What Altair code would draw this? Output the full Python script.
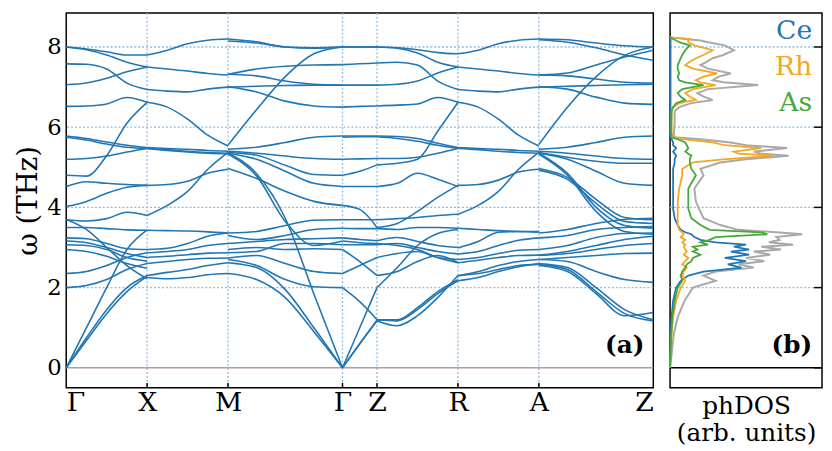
import altair as alt
import pandas as pd

# ---------------- high-symmetry path ----------------
K_POS = [0, 82, 164, 280, 315, 397, 479, 595]
K_LABELS = ["Γ", "X", "M", "Γ", "Z", "R", "A", "Z"]
Y_TICKS = [0, 2, 4, 6, 8]

# ---------------- phonon bands (THz), sampled evenly along each segment ----------------
GX = [
    [8.0, 7.95, 7.88, 7.8, 7.8],
    [8.0, 7.93, 7.8, 7.62, 7.5],
    [7.58, 7.57, 7.45, 7.1, 6.94],
    [7.06, 7.1, 7.22, 7.38, 7.5],
    [6.52, 6.53, 6.58, 6.74, 6.62],
    [4.8, 4.78, 5.29, 6.1, 6.62],
    [5.78, 5.72, 5.63, 5.55, 5.49],
    [5.75, 5.68, 5.58, 5.5, 5.47],
    [5.2, 5.22, 5.28, 5.38, 5.47],
    [4.52, 4.64, 4.6, 4.57, 4.55],
    [4.02, 4.15, 4.35, 4.5, 4.55],
    [3.69, 3.66, 3.72, 3.88, 3.8],
    [3.7, 3.45, 3.0, 2.55, 2.22],
    [3.5, 3.5, 3.47, 3.44, 3.43],
    [0.0, 1.0, 2.0, 2.95, 3.44],
    [0.0, 0.75, 1.45, 2.0, 2.3],
    [0.0, 0.68, 1.35, 1.9, 2.28],
    [2.0, 2.05, 2.2, 2.45, 2.6],
    [2.35, 2.4, 2.55, 2.75, 2.87],
    [3.24, 3.22, 3.1, 2.97, 2.95],
    [3.16, 3.12, 3.0, 2.85, 2.75],
    [3.07, 3.05, 2.95, 2.75, 2.66],
    [2.95, 2.9, 2.78, 2.6, 2.48],
]
XM = [
    [7.8, 7.92, 8.08, 8.17, 8.2],
    [7.5, 7.45, 7.4, 7.34, 7.3],
    [6.94, 6.9, 6.88, 6.95, 7.0],
    [6.62, 6.5, 6.2, 5.8, 5.53],
    [5.49, 5.47, 5.45, 5.42, 5.4],
    [5.47, 5.44, 5.4, 5.37, 5.35],
    [5.47, 5.42, 5.38, 5.35, 5.33],
    [4.55, 4.57, 4.65, 4.85, 4.95],
    [3.8, 4.05, 4.4, 4.95, 5.37],
    [3.43, 3.42, 3.41, 3.39, 3.36],
    [2.95, 2.98, 3.1, 3.28, 3.36],
    [2.87, 2.9, 2.95, 3.05, 3.1],
    [2.75, 2.78, 2.82, 2.86, 2.87],
    [2.6, 2.65, 2.7, 2.73, 2.74],
    [2.3, 2.38, 2.45, 2.55, 2.62],
    [2.25, 2.22, 2.25, 2.32, 2.35],
]
MG = [
    [8.2, 8.13, 8.0, 7.98, 8.0],
    [8.15, 8.1, 8.0, 7.97, 8.0],
    [5.55, 6.44, 7.26, 7.83, 8.0],
    [7.32, 7.45, 7.52, 7.55, 7.56],
    [7.32, 7.28, 7.15, 7.07, 7.05],
    [7.01, 6.88, 6.65, 6.53, 6.5],
    [7.0, 7.02, 7.04, 7.05, 7.05],
    [5.45, 5.5, 5.62, 5.75, 5.78],
    [5.4, 5.35, 5.28, 5.22, 5.2],
    [5.37, 5.3, 5.05, 4.82, 4.8],
    [5.35, 5.2, 4.9, 4.6, 4.52],
    [4.97, 4.72, 4.4, 4.15, 4.05],
    [5.35, 4.84, 3.73, 1.84, 0.0],
    [5.33, 4.78, 3.65, 3.05, 3.16],
    [2.62, 2.5, 1.95, 1.0, 0.0],
    [2.35, 2.2, 1.75, 0.9, 0.0],
    [3.36, 3.4, 3.55, 3.68, 3.69],
    [3.3, 3.2, 3.3, 3.45, 3.48],
    [3.1, 3.15, 3.2, 3.22, 3.24],
    [2.87, 2.9, 3.1, 3.1, 3.07],
    [2.74, 2.8, 2.6, 2.4, 2.35],
    [2.7, 2.55, 2.2, 2.02, 2.0],
    [2.95, 3.0, 2.95, 2.97, 2.95],
]
GZ = [
    [8.0, 8.0, 8.0],
    [8.0, 8.0, 8.0],
    [7.56, 7.58, 7.6],
    [7.05, 7.05, 7.05],
    [6.5, 6.52, 6.53],
    [5.78, 5.78, 5.78],
    [5.75, 5.76, 5.76],
    [5.2, 5.21, 5.22],
    [4.8, 4.9, 5.06],
    [4.52, 4.52, 4.52],
    [4.05, 3.95, 3.5],
    [3.69, 3.69, 3.69],
    [3.48, 3.47, 3.47],
    [3.24, 3.2, 3.17],
    [3.16, 3.12, 3.1],
    [3.07, 3.07, 3.07],
    [2.95, 2.65, 2.3],
    [2.35, 2.55, 2.75],
    [2.0, 1.65, 1.2],
    [0.0, 1.0, 2.0],
    [0.0, 0.6, 1.19],
    [0.0, 0.6, 1.17],
]
ZR = [
    [8.0, 7.98, 7.93, 7.86, 7.83],
    [8.0, 7.97, 7.85, 7.62, 7.5],
    [7.6, 7.62, 7.55, 7.15, 6.94],
    [7.05, 7.07, 7.15, 7.35, 7.5],
    [6.53, 6.55, 6.58, 6.74, 6.62],
    [5.06, 5.1, 5.2, 5.9, 6.62],
    [5.78, 5.77, 5.72, 5.6, 5.49],
    [5.76, 5.72, 5.65, 5.55, 5.47],
    [5.22, 5.22, 5.25, 5.35, 5.47],
    [4.52, 4.6, 4.85, 4.7, 4.52],
    [3.5, 3.6, 3.9, 4.25, 4.55],
    [3.69, 3.72, 3.75, 3.8, 3.83],
    [3.47, 3.45, 3.5, 3.5, 3.48],
    [3.17, 3.25, 3.15, 3.05, 3.0],
    [3.07, 3.1, 3.0, 2.9, 2.84],
    [3.1, 3.05, 2.95, 2.75, 2.62],
    [2.75, 2.85, 2.9, 2.75, 2.7],
    [2.3, 2.4, 2.65, 2.8, 2.62],
    [2.0, 2.5, 3.05, 3.35, 3.45],
    [1.2, 1.2, 1.5, 1.9, 2.2],
    [1.19, 1.17, 1.45, 1.85, 2.17],
    [1.17, 1.05, 1.3, 1.75, 2.3],
]
RA = [
    [7.83, 7.92, 8.08, 8.17, 8.2],
    [7.5, 7.45, 7.4, 7.34, 7.3],
    [6.94, 6.9, 6.88, 6.95, 7.0],
    [6.62, 6.5, 6.2, 5.8, 5.53],
    [5.49, 5.47, 5.45, 5.42, 5.4],
    [5.47, 5.44, 5.4, 5.37, 5.35],
    [4.55, 4.57, 4.68, 4.88, 4.95],
    [3.83, 4.05, 4.4, 4.95, 5.37],
    [3.48, 3.45, 3.42, 3.4, 3.4],
    [2.99, 3.15, 3.38, 3.4, 3.38],
    [2.84, 2.9, 3.05, 3.18, 3.24],
    [2.7, 2.75, 2.85, 2.93, 2.95],
    [2.62, 2.68, 2.75, 2.8, 2.81],
    [2.29, 2.4, 2.55, 2.65, 2.7],
    [2.17, 2.25, 2.4, 2.52, 2.6],
    [2.3, 2.35, 2.45, 2.55, 2.58],
]
AZ = [
    [8.2, 8.18, 8.1, 8.03, 8.0],
    [8.18, 8.12, 7.98, 7.8, 7.67],
    [7.3, 7.35, 7.55, 7.75, 7.92],
    [7.3, 7.28, 7.2, 7.12, 7.1],
    [7.0, 7.02, 7.04, 7.06, 7.07],
    [7.01, 6.95, 6.75, 6.6, 6.57],
    [5.57, 6.5, 7.26, 7.79, 8.0],
    [5.45, 5.5, 5.62, 5.75, 5.78],
    [5.4, 5.35, 5.28, 5.22, 5.2],
    [5.37, 5.25, 5.15, 5.1, 5.1],
    [5.35, 5.2, 4.9, 4.6, 4.55],
    [4.97, 4.75, 4.2, 3.75, 3.69],
    [4.93, 4.7, 4.1, 3.65, 3.6],
    [5.35, 4.85, 4.0, 3.55, 3.48],
    [5.33, 4.8, 3.9, 3.4, 3.33],
    [2.6, 2.5, 2.0, 1.45, 1.2],
    [2.58, 2.45, 1.9, 1.35, 1.17],
    [2.55, 2.4, 1.85, 1.3, 1.38],
    [2.7, 2.65, 2.4, 2.2, 2.13],
    [3.36, 3.45, 3.6, 3.7, 3.73],
    [3.24, 3.3, 3.45, 3.5, 3.52],
    [2.95, 3.05, 3.25, 3.35, 3.36],
    [2.81, 2.9, 3.05, 3.2, 3.28],
    [2.8, 2.85, 2.95, 3.05, 3.1],
    [2.7, 2.75, 2.8, 2.85, 2.86],
]
SEGMENTS = [GX, XM, MG, GZ, ZR, RA, AZ]

# ---------------- phonon DOS (arb. units) ----------------
DOS_FREQ = [0.0, 0.85, 1.26, 1.67, 2.0, 2.17, 2.3, 2.4, 2.5, 2.58, 2.66, 2.74, 2.82, 2.9, 2.95,
            3.02, 3.07, 3.13, 3.19, 3.26, 3.33, 3.38, 3.44, 3.56, 3.73, 3.97, 4.14, 4.47, 4.8,
            4.96, 5.12, 5.2, 5.29, 5.34, 5.39, 5.48, 5.55, 5.62, 5.7, 5.75, 5.85, 6.1, 6.4,
            6.5, 6.6, 6.68, 6.76, 6.85, 6.95, 7.05, 7.12, 7.17, 7.26, 7.34, 7.46, 7.55, 7.63,
            7.72, 7.8, 7.92, 8.04, 8.12, 8.16, 8.2, 8.24]
DOS_TOTAL = [0.0, 0.025, 0.05, 0.095, 0.15, 0.3, 0.22, 0.3, 0.55, 0.45, 0.62, 0.5, 0.66, 0.55, 0.73,
             0.6, 0.81, 0.65, 0.72, 0.7, 0.87, 0.7, 0.45, 0.33, 0.22, 0.19, 0.17, 0.16, 0.22,
             0.2, 0.33, 0.5, 0.78, 0.6, 0.55, 0.77, 0.5, 0.4, 0.2, 0.03, 0.025, 0.03, 0.03,
             0.06, 0.14, 0.28, 0.22, 0.18, 0.25, 0.58, 0.35, 0.28, 0.32, 0.4, 0.25, 0.2, 0.24,
             0.28, 0.35, 0.42, 0.36, 0.25, 0.2, 0.1, 0.0]
DOS_CE = [0.0, 0.005, 0.01, 0.02, 0.04, 0.07, 0.12, 0.22, 0.47, 0.38, 0.5, 0.36, 0.52, 0.4, 0.52,
          0.42, 0.5, 0.3, 0.2, 0.16, 0.14, 0.1, 0.07, 0.05, 0.03, 0.02, 0.02, 0.02, 0.02,
          0.02, 0.03, 0.03, 0.04, 0.03, 0.02, 0.04, 0.02, 0.02, 0.01, 0.005, 0.003, 0.003, 0.003,
          0.003, 0.003, 0.003, 0.003, 0.003, 0.003, 0.003, 0.003, 0.003, 0.003, 0.003, 0.003, 0.003, 0.003,
          0.003, 0.003, 0.003, 0.003, 0.003, 0.003, 0.003, 0.0]
DOS_RH = [0.0, 0.01, 0.02, 0.04, 0.07, 0.1, 0.08, 0.09, 0.11, 0.08, 0.1, 0.12, 0.09, 0.11, 0.1,
          0.09, 0.1, 0.08, 0.1, 0.07, 0.09, 0.08, 0.06, 0.05, 0.05, 0.05, 0.05, 0.06, 0.08,
          0.08, 0.15, 0.35, 0.68, 0.45, 0.42, 0.6, 0.36, 0.28, 0.08, 0.02, 0.01, 0.01, 0.01,
          0.02, 0.06, 0.17, 0.13, 0.1, 0.15, 0.3, 0.2, 0.17, 0.22, 0.31, 0.15, 0.1, 0.13,
          0.17, 0.22, 0.28, 0.16, 0.12, 0.12, 0.13, 0.0]
DOS_AS = [0.0, 0.008, 0.015, 0.03, 0.05, 0.08, 0.07, 0.08, 0.1, 0.11, 0.14, 0.15, 0.2, 0.15, 0.18,
          0.15, 0.25, 0.2, 0.26, 0.3, 0.64, 0.6, 0.26, 0.2, 0.14, 0.12, 0.12, 0.12, 0.17,
          0.14, 0.13, 0.13, 0.14, 0.12, 0.1, 0.12, 0.11, 0.1, 0.05, 0.01, 0.008, 0.008, 0.01,
          0.02, 0.04, 0.1, 0.07, 0.05, 0.08, 0.22, 0.1, 0.06, 0.05, 0.06, 0.05, 0.05, 0.06,
          0.07, 0.08, 0.1, 0.13, 0.06, 0.04, 0.02, 0.0]
SPECIES = ["Ce", "Rh", "As"]
SPECIES_COLORS = ["#1f77b4", "#f5a623", "#45a83a"]

# ---------------- build tables ----------------
rows = []
for s, seg in enumerate(SEGMENTS):
    x0, x1 = K_POS[s], K_POS[s + 1]
    for b, band in enumerate(seg):
        n = len(band)
        for i, w in enumerate(band):
            rows.append({"k": x0 + (x1 - x0) * i / (n - 1), "w": w, "band": f"{s}-{b}"})
bands_df = pd.DataFrame(rows)

dos_rows = []
for name, vals in zip(["Total"] + SPECIES, [DOS_TOTAL, DOS_CE, DOS_RH, DOS_AS]):
    for f, d in zip(DOS_FREQ, vals):
        dos_rows.append({"w": f, "d": d, "species": name})
dos_df = pd.DataFrame(dos_rows)

FONT = "DejaVu Serif"
GRID_COLOR = "#8fbbe3"
H = 380
x_scale = alt.Scale(domain=[0, 595], nice=False, zero=False)
y_scale = alt.Scale(domain=[-0.5, 8.85], nice=False, zero=False)
d_scale = alt.Scale(domain=[0, 1], nice=False, zero=False)

label_expr = " : ".join(f"datum.value == {p} ? '{l}'" for p, l in zip(K_POS, K_LABELS)) + " : ''"
x_axis = alt.Axis(values=K_POS, labelExpr=label_expr, labelFontSize=27, labelFont=FONT,
                  labelPadding=2, ticks=False, domain=False, grid=False, labelOverlap=False,
                  title=None, labelColor="black")
y_axis = alt.Axis(values=Y_TICKS, labelFontSize=23, labelFont=FONT, labelPadding=5, ticks=False,
                  domain=False, grid=False, title="ω (THz)", titleFont=FONT, titleFontSize=28,
                  titleFontWeight="normal", titlePadding=4, labelColor="black", titleColor="black")

kgrid_df = pd.DataFrame({"k": K_POS[1:-1]})
hgrid_df = pd.DataFrame({"w": Y_TICKS[1:]})
zero_df = pd.DataFrame({"w": [0]})
ytick_df = pd.DataFrame({"w": Y_TICKS})

vgrid = alt.Chart(kgrid_df).mark_rule(color=GRID_COLOR, strokeDash=[2, 2], strokeWidth=1.3).encode(
    x=alt.X("k:Q", scale=x_scale, axis=x_axis))
hgrid = alt.Chart(hgrid_df).mark_rule(color=GRID_COLOR, strokeDash=[2, 2], strokeWidth=1.3).encode(
    y=alt.Y("w:Q", scale=y_scale, axis=y_axis))
zero = alt.Chart(zero_df).mark_rule(color="#b49a9a", strokeWidth=1.5).encode(
    y=alt.Y("w:Q", scale=y_scale, axis=y_axis))
bands = alt.Chart(bands_df).mark_line(interpolate="monotone", color="#2176b3", strokeWidth=1.6,
                                      clip=True).encode(
    x=alt.X("k:Q", scale=x_scale, axis=x_axis),
    y=alt.Y("w:Q", scale=y_scale, axis=y_axis),
    detail="band:N",
    order="k:Q",
)
kticks = alt.Chart(kgrid_df).mark_rule(color="black", strokeWidth=1.5).encode(
    x=alt.X("k:Q", scale=x_scale, axis=x_axis), y=alt.value(H), y2=alt.value(H - 5))
label_a = alt.Chart(pd.DataFrame({"t": ["(a)"]})).mark_text(
    font=FONT, fontSize=25, fontWeight="bold", align="right", baseline="alphabetic", color="black"
).encode(text="t:N", x=alt.value(586), y=alt.value(345))

left = alt.layer(vgrid, hgrid, zero, bands, kticks, label_a).properties(width=595, height=H)

# right panel
x_axis_r = alt.Axis(labels=False, ticks=False, domain=False, grid=False,
                    title=["phDOS", "(arb. units)"], titleFont=FONT, titleFontSize=25,
                    titleFontWeight="normal", titlePadding=6, titleLineHeight=27, titleColor="black")
hgrid_r = alt.Chart(hgrid_df).mark_rule(color=GRID_COLOR, strokeDash=[2, 2], strokeWidth=1.3).encode(
    y=alt.Y("w:Q", scale=y_scale, axis=None), x=alt.value(0), x2=alt.value(146))
zero_r = alt.Chart(zero_df).mark_rule(color="black", strokeWidth=1.5).encode(
    y=alt.Y("w:Q", scale=y_scale, axis=None))
yticks_r = alt.Chart(ytick_df).mark_rule(color="black", strokeWidth=1.5).encode(
    y=alt.Y("w:Q", scale=y_scale, axis=None), x=alt.value(146), x2=alt.value(154))

total_df = dos_df[dos_df.species == "Total"]
area_total = alt.Chart(total_df).mark_area(orient="horizontal", color="#e8e8e8", opacity=1).encode(
    x=alt.X("d:Q", scale=d_scale, axis=x_axis_r), y=alt.Y("w:Q", scale=y_scale, axis=None),
    order="w:Q")
line_total = alt.Chart(total_df).mark_line(color="#a9a9a9", strokeWidth=2).encode(
    x=alt.X("d:Q", scale=d_scale, axis=x_axis_r), y=alt.Y("w:Q", scale=y_scale, axis=None),
    order="w:Q")
species_lines = []
for name, col in zip(SPECIES, SPECIES_COLORS):
    species_lines.append(
        alt.Chart(dos_df[dos_df.species == name]).mark_line(color=col, strokeWidth=1.8).encode(
            x=alt.X("d:Q", scale=d_scale, axis=x_axis_r),
            y=alt.Y("w:Q", scale=y_scale, axis=None), order="w:Q"))

legend_texts = []
for name, col, yy in zip(SPECIES, SPECIES_COLORS, [26, 63, 99]):
    legend_texts.append(
        alt.Chart(pd.DataFrame({"t": [name]})).mark_text(
            font=FONT, fontSize=27, align="right", baseline="alphabetic", color=col
        ).encode(text="t:N", x=alt.value(144), y=alt.value(yy)))
label_b = alt.Chart(pd.DataFrame({"t": ["(b)"]})).mark_text(
    font=FONT, fontSize=25, fontWeight="bold", align="right", baseline="alphabetic", color="black"
).encode(text="t:N", x=alt.value(144), y=alt.value(345))

right = alt.layer(hgrid_r, zero_r, area_total, line_total, *species_lines, yticks_r,
                  *legend_texts, label_b).properties(width=154, height=H)

chart = alt.hconcat(left, right, spacing=10).properties(
    padding={"left": 6, "top": 0, "right": 0, "bottom": 0})

chart = (chart.configure(font=FONT, background="white")
         .configure_view(stroke="black", strokeWidth=1.5)
         .configure_axis(labelFont=FONT, titleFont=FONT)
         .configure_text(font=FONT))
chart.save("out.html", embed_options={"renderer": "svg", "actions": False})
